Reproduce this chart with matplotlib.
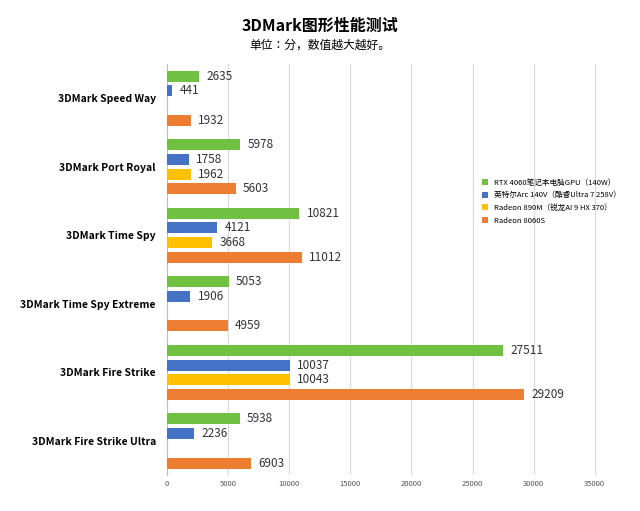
import numpy as np
import matplotlib
matplotlib.use("Agg")
import matplotlib.pyplot as plt

plt.rcParams["font.family"] = ["sans-serif"]
plt.rcParams["font.sans-serif"] = ["Noto Sans CJK SC", "Noto Sans CJK JP", "Noto Sans CJK TC",
                                   "Noto Sans CJK KR", "DejaVu Sans"]

tests = ["3DMark Speed Way", "3DMark Port Royal", "3DMark Time Spy",
         "3DMark Time Spy Extreme", "3DMark Fire Strike", "3DMark Fire Strike Ultra"]
rtx4060 = [2635, 5978, 10821, 5053, 27511, 5938]
arc140v = [441, 1758, 4121, 1906, 10037, 2236]
r890m = [np.nan, 1962, 3668, np.nan, 10043, np.nan]
r8060s = [1932, 5603, 11012, 4959, 29209, 6903]

series = [
    ("RTX 4060笔记本电脑GPU（140W）", rtx4060, "#70c142"),
    ("英特尔Arc 140V（酷睿Ultra 7 258V）", arc140v, "#4472c4"),
    ("Radeon 890M（锐龙AI 9 HX 370）", r890m, "#ffc000"),
    ("Radeon 8060S", r8060s, "#ed7d31"),
]

fig = plt.figure(figsize=(6.4, 5.11), dpi=100, facecolor="white")
ax = fig.add_axes([0.261, 0.07, 0.72, 0.805])

y = np.arange(len(tests))
pitch = 0.215
for k, (name, vals, color) in enumerate(series):
    pos = y + (k - 1.5) * pitch
    ax.barh(pos, vals, height=0.16, color=color, label=name, zorder=3)
    for p, v in zip(pos, vals):
        if not np.isnan(v):
            ax.text(v + 600, p, f"{v}", va="center", ha="left", fontsize=8.5, color="#333333")

ax.set_ylim(len(tests) - 0.5, -0.5)
ax.set_xlim(0, 37700)
ax.set_xticks(range(0, 35001, 5000))
ax.tick_params(axis="x", labelsize=5.5, colors="#555555", length=0)
ax.set_yticks(y)
ax.set_yticklabels(tests, fontsize=7.5, fontweight="bold")
ax.tick_params(axis="y", length=0, pad=8)
ax.grid(axis="x", color="#d9d9d9", linewidth=0.8, zorder=0)
for s in ax.spines.values():
    s.set_visible(False)
ax.spines["left"].set_visible(True)
ax.spines["left"].set_color("#bfbfbf")

ax.legend(loc="center right", bbox_to_anchor=(1.0, 0.665), fontsize=5.5,
          frameon=False, handlelength=0.8, handleheight=0.8, labelspacing=0.6)

fig.text(0.5, 0.94, "3DMark图形性能测试", ha="center", fontsize=11.5, fontweight="bold")
fig.text(0.5, 0.905, "单位：分，数值越大越好。", ha="center", fontsize=8.5)

fig.savefig("out.png", dpi=100, facecolor="white")
